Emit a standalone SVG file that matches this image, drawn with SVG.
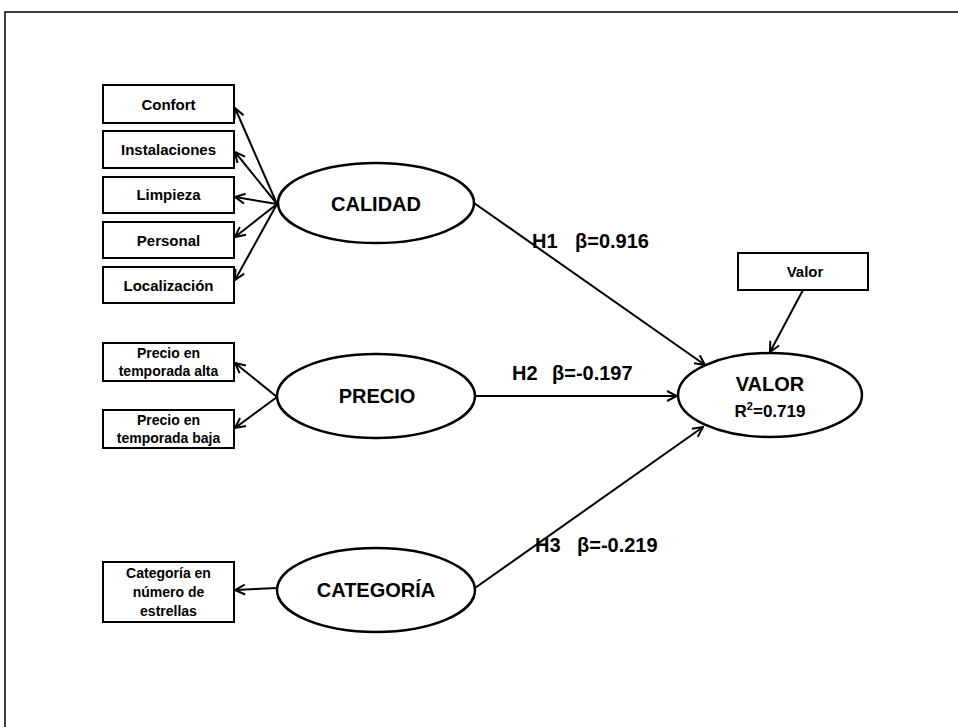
<svg xmlns="http://www.w3.org/2000/svg" width="958" height="727" viewBox="0 0 958 727">
<style>
text{font-family:"Liberation Sans",Arial,sans-serif;font-weight:bold;fill:#000}
.box{fill:#fff;stroke:#000;stroke-width:2}
.ell{fill:#fff;stroke:#000;stroke-width:2.5}
.ln{fill:none;stroke:#000;stroke-width:2;marker-end:url(#arr)}
.bt{font-size:15px;text-anchor:middle}
.bt2{font-size:14px;text-anchor:middle}
.nt{font-size:20px;text-anchor:middle}
.hl{font-size:20px}
</style>
<defs>
<marker id="arr" viewBox="0 0 12 12" refX="11" refY="6" markerWidth="12" markerHeight="12" markerUnits="userSpaceOnUse" orient="auto">
<path d="M1,1 L11,6 L1,11" fill="none" stroke="#000" stroke-width="2"/>
</marker>
</defs>
<rect width="958" height="727" fill="#fff"/>
<path d="M5,727 L5,12 L958,12" fill="none" stroke="#000" stroke-width="1.5"/>

<g id="connectors">
<path class="ln" d="M277,204 L235,108"/>
<path class="ln" d="M277,204 L235,152"/>
<path class="ln" d="M277,204 L235,197"/>
<path class="ln" d="M277,204 L235,237"/>
<path class="ln" d="M277,204 L235,280"/>
<path class="ln" d="M277,397 L235,363"/>
<path class="ln" d="M277,397 L235,428"/>
<path class="ln" d="M278,588 L235,590"/>
<path class="ln" d="M803,290 L770,352"/>
<path class="ln" d="M474,203 L705,365"/>
<path class="ln" d="M475,396 L677,396"/>
<path class="ln" d="M475,588 L703,427"/>
<text class="hl" x="532" y="248">H1<tspan x="575">β=0.916</tspan></text>
<text class="hl" x="512" y="380">H2<tspan x="552">β=-0.197</tspan></text>
<text class="hl" x="535" y="552">H3<tspan x="577">β=-0.219</tspan></text>
</g>

<g id="confort"><rect class="box" x="103" y="85" width="131" height="38"/><text class="bt" x="168.5" y="110">Confort</text></g>
<g id="instalaciones"><rect class="box" x="103" y="131" width="131" height="37"/><text class="bt" x="168.5" y="155">Instalaciones</text></g>
<g id="limpieza"><rect class="box" x="103" y="177" width="131" height="36"/><text class="bt" x="168.5" y="200">Limpieza</text></g>
<g id="personal"><rect class="box" x="103" y="222" width="131" height="36"/><text class="bt" x="168.5" y="246">Personal</text></g>
<g id="localizacion"><rect class="box" x="103" y="267" width="131" height="36"/><text class="bt" x="168.5" y="291">Localización</text></g>

<g id="precio-alta"><rect class="box" x="103" y="343" width="131" height="38"/><text class="bt2" x="168.5" y="358">Precio en</text><text class="bt2" x="168.5" y="376">temporada alta</text></g>
<g id="precio-baja"><rect class="box" x="103" y="410" width="131" height="38"/><text class="bt2" x="168.5" y="425">Precio en</text><text class="bt2" x="168.5" y="443">temporada baja</text></g>
<g id="categoria-box"><rect class="box" x="103" y="562" width="131" height="60"/><text class="bt2" x="168.5" y="578">Categoría en</text><text class="bt2" x="168.5" y="597">número de</text><text class="bt2" x="168.5" y="616">estrellas</text></g>

<g id="valor-box"><rect class="box" x="738" y="253" width="130" height="37"/><text class="bt" x="805" y="277">Valor</text></g>

<g id="calidad"><ellipse class="ell" cx="376" cy="203" rx="98" ry="40"/><text class="nt" x="376" y="211">CALIDAD</text></g>
<g id="precio"><ellipse class="ell" cx="376" cy="396" rx="99" ry="42"/><text class="nt" x="377" y="403">PRECIO</text></g>
<g id="categoria"><ellipse class="ell" cx="376" cy="590" rx="99" ry="42"/><text class="nt" x="376" y="597">CATEGORÍA</text></g>
<g id="valor"><ellipse class="ell" cx="770" cy="395" rx="92" ry="42"/><text class="nt" x="770" y="391">VALOR</text><text x="770" y="417" style="font-size:17px;text-anchor:middle">R<tspan dy="-7" style="font-size:11px">2</tspan><tspan dy="7">=0.719</tspan></text></g>
</svg>
